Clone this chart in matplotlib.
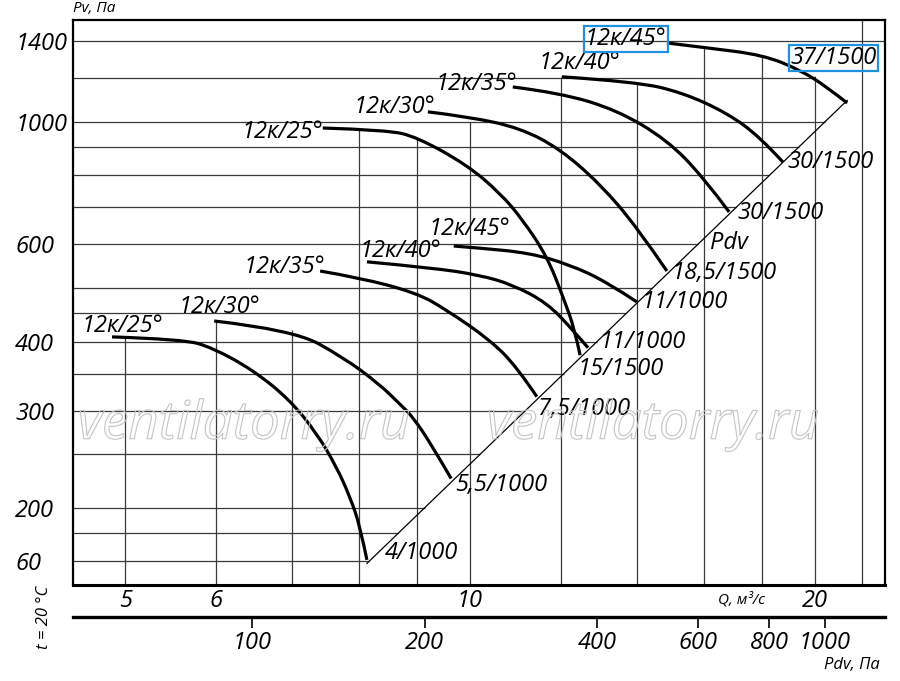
import numpy as np
import matplotlib
matplotlib.use("Agg")
import matplotlib.pyplot as plt
from matplotlib.path import Path
from matplotlib.patches import PathPatch
from matplotlib import patheffects as pe
from matplotlib.ticker import NullLocator

plt.rcParams["font.family"] = ["Open Sans", "DejaVu Sans"]
plt.rcParams["font.style"] = "italic"

# dynamic pressure: Pdv = K * Q^2 (used by the lower Pdv scale and the diagonal)
PDV_K = 2.4

# --- curves, Q in m3/s, Pv in Pa ---
lo_25_q = [4.87, 5.62, 5.96, 6.47, 6.96, 7.35, 7.65, 7.86, 8.02, 8.13]
lo_25_p = [408, 404, 390, 355, 314, 273, 237, 209, 185, 161]
lo_30_q = [5.98, 7.01, 7.75, 8.35, 8.69, 8.92, 9.28, 9.63]
lo_30_p = [436, 420, 375, 334, 308, 292, 258, 226]
lo_35_q = [7.40, 8.02, 8.99, 9.55, 10.41, 10.99, 11.44]
lo_35_p = [537, 522, 490, 456, 403, 360, 318]
lo_40_q = [8.13, 9.28, 10.20, 10.90, 11.68, 12.30, 12.68]
lo_40_p = [558, 544, 528, 507, 470, 420, 390]
lo_45_q = [9.68, 10.20, 11.28, 12.23, 13.17, 13.99]
lo_45_p = [596, 591, 579, 551, 513, 472]

hi_25_q = [7.44, 8.46, 8.99, 9.94, 10.62, 11.12, 11.68, 12.06, 12.35, 12.48]
hi_25_p = [975, 967, 939, 836, 744, 665, 570, 482, 420, 378]
hi_30_q = [9.19, 10.0, 11.06, 11.98, 12.99, 13.99, 14.86]
hi_30_p = [1043, 1021, 975, 894, 772, 645, 537]
hi_35_q = [10.90, 11.98, 13.44, 14.86, 15.98, 16.84]
hi_35_p = [1157, 1129, 1051, 928, 795, 687]
hi_40_q = [12.03, 13.99, 15.35, 16.77, 17.92, 18.76]
hi_40_p = [1207, 1182, 1129, 1038, 939, 846]
hi_45_q = [14.86, 16.11, 18.03, 19.42, 20.50, 21.35]
hi_45_p = [1390, 1362, 1322, 1242, 1157, 1082]

blade_labels = ["12к/25°", "12к/30°", "12к/35°", "12к/40°", "12к/45°"]
motor_lo = ["4/1000", "5,5/1000", "7,5/1000", "11/1000", "11/1000"]
motor_hi = ["15/1500", "18,5/1500", "30/1500", "30/1500", "37/1500"]

# diagonal Pdv line end points
diag_q = [8.13, 21.35]

# grid
grid_q = [5, 6, 7, 8, 9, 10, 12, 14, 16, 18, 20, 22]
grid_q_top = [407, 436, 420, 971, 939, 1000, 1207, 1182, 1362, 1322, 1210, None]
grid_p = [1400, 1200, 1000, 900, 800, 700, 600, 500, 450, 400, 350, 300, 250, 200, 180, 160]

y_ticks = [1400, 1000, 600, 400, 300, 200, 160]
y_tick_labels = ["1400", "1000", "600", "400", "300", "200", "60"]
x_ticks = [5, 6, 10, 20]
x_tick_labels = ["5", "6", "10", "20"]
pdv_ticks = [100, 200, 400, 600, 800, 1000]
pdv_tick_labels = ["100", "200", "400", "600", "800", "1000"]

Q_MIN, Q_MAX = 4.5, 23.04
P_MIN, P_MAX = 145, 1530


def smooth_path(q, p):
    # quadratic b-spline through the read points (drawn by the Path machinery)
    pts = list(zip(q, p))
    verts, codes = [pts[0]], [Path.MOVETO]
    for i in range(1, len(pts) - 1):
        if i < len(pts) - 2:
            end = (np.sqrt(pts[i][0] * pts[i + 1][0]), np.sqrt(pts[i][1] * pts[i + 1][1]))
        else:
            end = pts[-1]
        verts += [pts[i], end]
        codes += [Path.CURVE3, Path.CURVE3]
    return Path(verts, codes)


fig = plt.figure(figsize=(9, 6.81), dpi=100)
ax = fig.add_axes([0.0808, 0.1410, 0.9026, 0.8297])
ax.set_xscale("log")
ax.set_yscale("log")
ax.set_xlim(Q_MIN, Q_MAX)
ax.set_ylim(P_MIN, P_MAX)

grid_kw = dict(color="#3a3a3a", lw=0.9, zorder=1)
for q, top in zip(grid_q, grid_q_top):
    ax.vlines(q, P_MIN, P_MAX if top is None else top, **grid_kw)
for p in grid_p:
    if p == 1400:
        q_end = Q_MAX
    elif p == 1200:
        q_end = 20.0
    else:
        q_end = np.sqrt(p / PDV_K)
    ax.hlines(p, Q_MIN, q_end, **grid_kw)

# diagonal
dq = np.array(diag_q)
ax.plot(dq, PDV_K * dq ** 2, color="black", lw=0.9, zorder=2)

lo_curves = [(lo_25_q, lo_25_p), (lo_30_q, lo_30_p), (lo_35_q, lo_35_p),
             (lo_40_q, lo_40_p), (lo_45_q, lo_45_p)]
hi_curves = [(hi_25_q, hi_25_p), (hi_30_q, hi_30_p), (hi_35_q, hi_35_p),
             (hi_40_q, hi_40_p), (hi_45_q, hi_45_p)]

for q, p in lo_curves + hi_curves:
    ax.add_patch(PathPatch(smooth_path(q, p), fc="none", ec="black", lw=2.3,
                           capstyle="butt", joinstyle="round", zorder=3))

FS = 17
start_off_lo = [(10, 11), (5, 14), (-36, 4), (34, 11), (16, 17)]
start_off_hi = [(-40, -4), (-33, 5), (-36, 3), (18, 14), (-41, 4)]
end_off_lo = [(18, 7), (4, -6), (1, -12), (12, 6), (5, 0)]
end_off_hi = [(-3, -14), (5, -2), (8, -1), (5, 0), (-57, 45)]

box = dict(boxstyle="square,pad=0.06", fc="none", ec="#1e90e0", lw=1.6)

for i, (q, p) in enumerate(lo_curves):
    ax.annotate(blade_labels[i], (q[0], p[0]), xytext=start_off_lo[i],
                textcoords="offset pixels", ha="center", va="center",
                fontsize=FS, zorder=5)
    ax.annotate(motor_lo[i], (q[-1], p[-1]), xytext=end_off_lo[i],
                textcoords="offset pixels", ha="left", va="center",
                fontsize=FS, zorder=5)
for i, (q, p) in enumerate(hi_curves):
    ax.annotate(blade_labels[i], (q[0], p[0]), xytext=start_off_hi[i],
                textcoords="offset pixels", ha="center", va="center",
                fontsize=FS, zorder=5, bbox=box if i == 4 else None)
    ax.annotate(motor_hi[i], (q[-1], p[-1]), xytext=end_off_hi[i],
                textcoords="offset pixels", ha="left", va="center",
                fontsize=FS, zorder=5, bbox=box if i == 4 else None)

ax.text(16.84, 603, "Pdv", ha="center", va="center", fontsize=FS, zorder=5)

# axes ticks
ax.set_yticks(y_ticks, y_tick_labels)
ax.yaxis.set_minor_locator(NullLocator())
ax.tick_params(axis="y", length=0, pad=41.5, labelsize=FS)
for lab in ax.get_yticklabels():
    lab.set_horizontalalignment("left")
ax.set_xticks(x_ticks, x_tick_labels)
ax.xaxis.set_minor_locator(NullLocator())
ax.tick_params(axis="x", length=0, pad=3, labelsize=FS)

for side in ["left", "right", "top"]:
    ax.spines[side].set_linewidth(1.6)
ax.spines["bottom"].set_linewidth(2.2)

# Pdv scale below
sec = ax.secondary_xaxis(-0.0566, functions=(lambda q: PDV_K * np.asarray(q) ** 2,
                                             lambda p: np.sqrt(np.asarray(p) / PDV_K)))
sec.set_xticks(pdv_ticks, pdv_tick_labels)
sec.xaxis.set_minor_locator(NullLocator())
sec.tick_params(axis="x", direction="out", length=8, width=1.2, pad=2, labelsize=FS)
sec.spines["bottom"].set_linewidth(2.4)
sec.spines["top"].set_visible(False)

fig.text(73 / 900, 1 - 9 / 681, "Pv, Па", ha="left", va="center", fontsize=11)
fig.text(742 / 900, 1 - 600 / 681, "Q, м³/с", ha="center", va="center", fontsize=11)
fig.text(880 / 900, 1 - 665 / 681, "Pdv, Па", ha="right", va="center", fontsize=12)
fig.text(44 / 900, 1 - 617 / 681, "t = 20 °C", ha="center", va="center",
         rotation=90, fontsize=12)

# outlined watermark
wm_fx = [pe.Stroke(linewidth=0.8, foreground="#c4c4c4")]
for cx in [244, 653]:
    fig.text(cx / 900, 1 - 425 / 681, "ventilatorry.ru", ha="center", va="center",
             fontsize=38, color=(1, 1, 1, 0), path_effects=wm_fx, zorder=10)

fig.savefig("out.png", dpi=100)
plt.close(fig)
